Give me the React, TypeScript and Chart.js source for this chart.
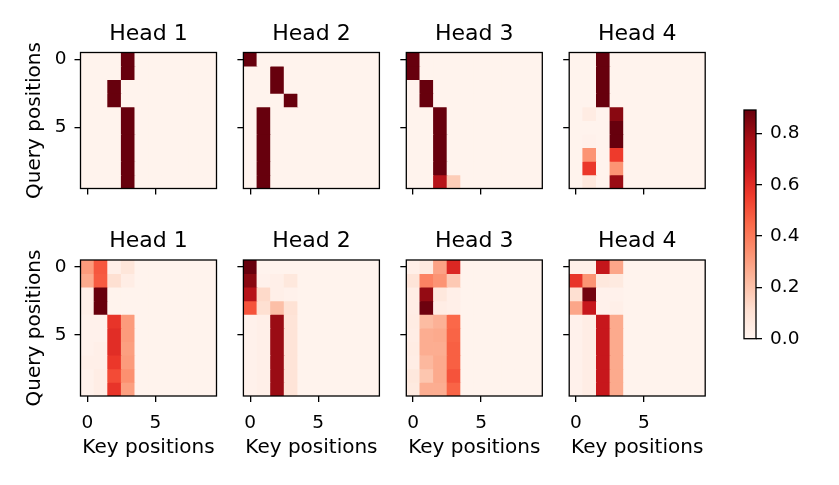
import React, { useEffect, useRef } from "react";
import { Chart, registerables } from "chart.js";

Chart.register(...registerables);

// ---------- data ----------
const KEY_POSITIONS = [0, 1, 2, 3, 4, 5, 6, 7, 8, 9];
const QUERY_POSITIONS = [0, 1, 2, 3, 4, 5, 6, 7, 8, 9];
const AXIS_TICKS = [0, 5];
const COLORBAR_TICKS = [0, 0.2, 0.4, 0.6, 0.8];
const HEAD_TITLES = ["Head 1", "Head 2", "Head 3", "Head 4"];
const X_LABEL = "Key positions";
const Y_LABEL = "Query positions";
const COLOR_MIN = 0;
const COLOR_MAX = 0.891;

// rows = query positions, columns = key positions
const layer1Head1 = [
  [0.01, 0.01, 0.01, 0.91, 0.01, 0.01, 0.01, 0.01, 0.01, 0.01],
  [0.01, 0.01, 0.01, 0.91, 0.01, 0.01, 0.01, 0.01, 0.01, 0.01],
  [0.01, 0.01, 0.91, 0.01, 0.01, 0.01, 0.01, 0.01, 0.01, 0.01],
  [0.01, 0.01, 0.91, 0.01, 0.01, 0.01, 0.01, 0.01, 0.01, 0.01],
  [0.01, 0.01, 0.01, 0.91, 0.01, 0.01, 0.01, 0.01, 0.01, 0.01],
  [0.01, 0.01, 0.01, 0.91, 0.01, 0.01, 0.01, 0.01, 0.01, 0.01],
  [0.01, 0.01, 0.01, 0.91, 0.01, 0.01, 0.01, 0.01, 0.01, 0.01],
  [0.01, 0.01, 0.01, 0.91, 0.01, 0.01, 0.01, 0.01, 0.01, 0.01],
  [0.01, 0.01, 0.01, 0.91, 0.01, 0.01, 0.01, 0.01, 0.01, 0.01],
  [0.01, 0.01, 0.01, 0.91, 0.01, 0.01, 0.01, 0.01, 0.01, 0.01],
];
const layer1Head2 = [
  [0.91, 0.01, 0.01, 0.01, 0.01, 0.01, 0.01, 0.01, 0.01, 0.01],
  [0.01, 0.01, 0.91, 0.01, 0.01, 0.01, 0.01, 0.01, 0.01, 0.01],
  [0.01, 0.01, 0.91, 0.01, 0.01, 0.01, 0.01, 0.01, 0.01, 0.01],
  [0.01, 0.01, 0.01, 0.91, 0.01, 0.01, 0.01, 0.01, 0.01, 0.01],
  [0.01, 0.91, 0.01, 0.01, 0.01, 0.01, 0.01, 0.01, 0.01, 0.01],
  [0.01, 0.91, 0.01, 0.01, 0.01, 0.01, 0.01, 0.01, 0.01, 0.01],
  [0.01, 0.91, 0.01, 0.01, 0.01, 0.01, 0.01, 0.01, 0.01, 0.01],
  [0.01, 0.91, 0.01, 0.01, 0.01, 0.01, 0.01, 0.01, 0.01, 0.01],
  [0.01, 0.91, 0.01, 0.01, 0.01, 0.01, 0.01, 0.01, 0.01, 0.01],
  [0.01, 0.91, 0.01, 0.01, 0.01, 0.01, 0.01, 0.01, 0.01, 0.01],
];
const layer1Head3 = [
  [0.91, 0.01, 0.01, 0.01, 0.01, 0.01, 0.01, 0.01, 0.01, 0.01],
  [0.91, 0.01, 0.01, 0.01, 0.01, 0.01, 0.01, 0.01, 0.01, 0.01],
  [0.01, 0.91, 0.01, 0.01, 0.01, 0.01, 0.01, 0.01, 0.01, 0.01],
  [0.01, 0.91, 0.01, 0.01, 0.01, 0.01, 0.01, 0.01, 0.01, 0.01],
  [0.01, 0.01, 0.91, 0.01, 0.01, 0.01, 0.01, 0.01, 0.01, 0.01],
  [0.01, 0.01, 0.91, 0.01, 0.01, 0.01, 0.01, 0.01, 0.01, 0.01],
  [0.01, 0.01, 0.91, 0.01, 0.01, 0.01, 0.01, 0.01, 0.01, 0.01],
  [0.01, 0.01, 0.91, 0.01, 0.01, 0.01, 0.01, 0.01, 0.01, 0.01],
  [0.01, 0.01, 0.91, 0.01, 0.01, 0.01, 0.01, 0.01, 0.01, 0.01],
  [0.01, 0.01, 0.73, 0.17, 0.01, 0.01, 0.01, 0.01, 0.01, 0.01],
];
const layer1Head4 = [
  [0.01, 0.01, 0.91, 0.01, 0.01, 0.01, 0.01, 0.01, 0.01, 0.01],
  [0.01, 0.01, 0.91, 0.01, 0.01, 0.01, 0.01, 0.01, 0.01, 0.01],
  [0.01, 0.01, 0.91, 0.01, 0.01, 0.01, 0.01, 0.01, 0.01, 0.01],
  [0.01, 0.01, 0.91, 0.01, 0.01, 0.01, 0.01, 0.01, 0.01, 0.01],
  [0.01, 0.05, 0.01, 0.83, 0.01, 0.01, 0.01, 0.01, 0.01, 0.01],
  [0.01, 0.01, 0.01, 0.91, 0.01, 0.01, 0.01, 0.01, 0.01, 0.01],
  [0.01, 0.02, 0.01, 0.91, 0.01, 0.01, 0.01, 0.01, 0.01, 0.01],
  [0.01, 0.33, 0.01, 0.56, 0.01, 0.01, 0.01, 0.01, 0.01, 0.01],
  [0.01, 0.57, 0.01, 0.33, 0.01, 0.01, 0.01, 0.01, 0.01, 0.01],
  [0.01, 0.07, 0.01, 0.8, 0.01, 0.01, 0.01, 0.01, 0.01, 0.01],
];
const layer2Head1 = [
  [0.31, 0.49, 0.03, 0.08, 0.01, 0.01, 0.01, 0.01, 0.01, 0.01],
  [0.27, 0.48, 0.11, 0.04, 0.01, 0.01, 0.01, 0.01, 0.01, 0.01],
  [0.03, 0.89, 0.01, 0.01, 0.01, 0.01, 0.01, 0.01, 0.01, 0.01],
  [0.03, 0.89, 0.01, 0.01, 0.01, 0.01, 0.01, 0.01, 0.01, 0.01],
  [0.02, 0.02, 0.58, 0.31, 0.01, 0.01, 0.01, 0.01, 0.01, 0.01],
  [0.02, 0.02, 0.6, 0.31, 0.01, 0.01, 0.01, 0.01, 0.01, 0.01],
  [0.02, 0.03, 0.6, 0.3, 0.01, 0.01, 0.01, 0.01, 0.01, 0.01],
  [0.03, 0.03, 0.57, 0.31, 0.01, 0.01, 0.01, 0.01, 0.01, 0.01],
  [0.02, 0.04, 0.52, 0.34, 0.01, 0.01, 0.01, 0.01, 0.01, 0.01],
  [0.02, 0.04, 0.58, 0.3, 0.01, 0.01, 0.01, 0.01, 0.01, 0.01],
];
const layer2Head2 = [
  [0.89, 0.01, 0.01, 0.01, 0.01, 0.01, 0.01, 0.01, 0.01, 0.01],
  [0.83, 0.02, 0.03, 0.07, 0.01, 0.01, 0.01, 0.01, 0.01, 0.01],
  [0.73, 0.13, 0.03, 0.02, 0.01, 0.01, 0.01, 0.01, 0.01, 0.01],
  [0.5, 0.11, 0.21, 0.1, 0.01, 0.01, 0.01, 0.01, 0.01, 0.01],
  [0.02, 0.03, 0.8, 0.09, 0.01, 0.01, 0.01, 0.01, 0.01, 0.01],
  [0.02, 0.03, 0.8, 0.09, 0.01, 0.01, 0.01, 0.01, 0.01, 0.01],
  [0.02, 0.03, 0.8, 0.09, 0.01, 0.01, 0.01, 0.01, 0.01, 0.01],
  [0.02, 0.03, 0.8, 0.09, 0.01, 0.01, 0.01, 0.01, 0.01, 0.01],
  [0.02, 0.03, 0.8, 0.09, 0.01, 0.01, 0.01, 0.01, 0.01, 0.01],
  [0.02, 0.03, 0.8, 0.09, 0.01, 0.01, 0.01, 0.01, 0.01, 0.01],
];
const layer2Head3 = [
  [0.03, 0.06, 0.29, 0.62, 0.01, 0.01, 0.01, 0.01, 0.01, 0.01],
  [0.09, 0.38, 0.33, 0.18, 0.01, 0.01, 0.01, 0.01, 0.01, 0.01],
  [0.04, 0.81, 0.07, 0.03, 0.01, 0.01, 0.01, 0.01, 0.01, 0.01],
  [0.04, 0.88, 0.04, 0.03, 0.01, 0.01, 0.01, 0.01, 0.01, 0.01],
  [0.05, 0.22, 0.25, 0.45, 0.01, 0.01, 0.01, 0.01, 0.01, 0.01],
  [0.04, 0.26, 0.27, 0.46, 0.01, 0.01, 0.01, 0.01, 0.01, 0.01],
  [0.05, 0.26, 0.26, 0.47, 0.01, 0.01, 0.01, 0.01, 0.01, 0.01],
  [0.04, 0.23, 0.27, 0.47, 0.01, 0.01, 0.01, 0.01, 0.01, 0.01],
  [0.07, 0.19, 0.27, 0.5, 0.01, 0.01, 0.01, 0.01, 0.01, 0.01],
  [0.06, 0.26, 0.26, 0.46, 0.01, 0.01, 0.01, 0.01, 0.01, 0.01],
];
const layer2Head4 = [
  [0.03, 0.03, 0.69, 0.28, 0.01, 0.01, 0.01, 0.01, 0.01, 0.01],
  [0.58, 0.33, 0.07, 0.06, 0.01, 0.01, 0.01, 0.01, 0.01, 0.01],
  [0.11, 0.87, 0.02, 0.02, 0.01, 0.01, 0.01, 0.01, 0.01, 0.01],
  [0.28, 0.68, 0.02, 0.03, 0.01, 0.01, 0.01, 0.01, 0.01, 0.01],
  [0.02, 0.04, 0.68, 0.27, 0.01, 0.01, 0.01, 0.01, 0.01, 0.01],
  [0.02, 0.04, 0.68, 0.27, 0.01, 0.01, 0.01, 0.01, 0.01, 0.01],
  [0.02, 0.04, 0.68, 0.27, 0.01, 0.01, 0.01, 0.01, 0.01, 0.01],
  [0.02, 0.04, 0.68, 0.27, 0.01, 0.01, 0.01, 0.01, 0.01, 0.01],
  [0.02, 0.04, 0.68, 0.27, 0.01, 0.01, 0.01, 0.01, 0.01, 0.01],
  [0.02, 0.04, 0.68, 0.27, 0.01, 0.01, 0.01, 0.01, 0.01, 0.01],
];

const LAYERS = [
  [layer1Head1, layer1Head2, layer1Head3, layer1Head4],
  [layer2Head1, layer2Head2, layer2Head3, layer2Head4],
];

// ---------- style / layout ----------
const FIG_W = 839;
const FIG_H = 485;
const FONT = "DejaVu Sans";
const PANEL_LEFT = [80.5, 243.4, 406.3, 569.2];
const PANEL_TOP = [52.5, 260];
const PANEL_SIZE = 136;
const CB_LEFT = 744;
const CB_RIGHT = 756;
const CB_TOP = 110;
const CB_BOTTOM = 338.7;
const TITLE_SIZE = 22;
const TITLE_GAP = 7.5;
const LABEL_SIZE = 20;
const TICK_SIZE = 18.5;
const LINE_W = 1.3;
const TICK_LEN = 6;

const REDS = ["#fff5f0", "#fee0d2", "#fcbba1", "#fc9272", "#fb6a4a", "#ef3b2c", "#cb181d", "#a50f15", "#67000d"];

function hexToRgb(h: string) {
  return [parseInt(h.slice(1, 3), 16), parseInt(h.slice(3, 5), 16), parseInt(h.slice(5, 7), 16)];
}

function cmap(v: number) {
  let t = (v - COLOR_MIN) / (COLOR_MAX - COLOR_MIN);
  t = Math.max(0, Math.min(1, t));
  const pos = t * (REDS.length - 1);
  const i = Math.min(REDS.length - 2, Math.floor(pos));
  const f = pos - i;
  const a = hexToRgb(REDS[i]);
  const b = hexToRgb(REDS[i + 1]);
  const c = a.map((x, k) => Math.round(x + (b[k] - x) * f));
  return `rgb(${c[0]},${c[1]},${c[2]})`;
}

const framePlugin = {
  id: "frame",
  beforeDatasetsDraw(chart: any) {
    const { ctx, chartArea: a } = chart;
    ctx.save();
    ctx.fillStyle = cmap(0.01);
    ctx.fillRect(a.left, a.top, a.right - a.left, a.bottom - a.top);
    ctx.restore();
  },
  afterDraw(chart: any) {
    const { ctx, chartArea: a } = chart;
    ctx.save();
    ctx.strokeStyle = "#000";
    ctx.lineWidth = LINE_W;
    ctx.strokeRect(a.left, a.top, a.right - a.left, a.bottom - a.top);
    ctx.restore();
  },
};

const cbFramePlugin = {
  id: "cbframe",
  afterDraw(chart: any) {
    const { ctx, chartArea: a } = chart;
    ctx.save();
    ctx.strokeStyle = "#000";
    ctx.lineWidth = LINE_W;
    ctx.strokeRect(a.left, a.top, a.right - a.left, a.bottom - a.top);
    ctx.restore();
  },
};

const canvasStyle: React.CSSProperties = {
  position: "absolute",
  left: 0,
  top: 0,
  width: FIG_W,
  height: FIG_H,
};

function HeatPanel({ matrix, title, col, row }: { matrix: number[][]; title: string; col: number; row: number }) {
  const ref = useRef<HTMLCanvasElement>(null);
  useEffect(() => {
    const left = PANEL_LEFT[col];
    const top = PANEL_TOP[row];
    const isLeft = col === 0;
    const isBottom = row === 1;
    const yW = isLeft ? left : 24;
    const xH = isBottom ? 62 : 12;
    const chart = new Chart(ref.current as HTMLCanvasElement, {
      type: "bar",
      data: {
        datasets: QUERY_POSITIONS.map((q) => ({
          label: `query ${q}`,
          data: KEY_POSITIONS.map((k) => ({ x: k, y: [q - 0.5, q + 0.5] })),
          backgroundColor: matrix[q].map((v) => cmap(v)),
          borderWidth: 0,
          barPercentage: 1,
          categoryPercentage: 1,
          grouped: false,
          inflateAmount: 0.4,
        })) as any,
      },
      options: {
        animation: false,
        responsive: false,
        devicePixelRatio: 1,
        events: [],
        layout: {
          padding: {
            left: left - yW,
            right: FIG_W - (left + PANEL_SIZE),
            top: top - TITLE_SIZE - TITLE_GAP,
            bottom: FIG_H - (top + PANEL_SIZE) - xH,
          },
        },
        plugins: {
          legend: { display: false },
          tooltip: { enabled: false },
          title: {
            display: true,
            fullSize: false,
            align: "center",
            text: title,
            color: "#000",
            font: { family: FONT, size: TITLE_SIZE, weight: "normal", lineHeight: 1 },
            padding: { top: 0, bottom: TITLE_GAP },
          },
        },
        scales: {
          x: {
            type: "linear",
            min: -0.5,
            max: 9.5,
            offset: false,
            afterBuildTicks: (s: any) => {
              s.ticks = AXIS_TICKS.map((v) => ({ value: v }));
            },
            afterFit: (s: any) => {
              s.height = xH;
            },
            grid: {
              display: true,
              offset: false,
              drawOnChartArea: false,
              drawTicks: true,
              tickLength: TICK_LEN,
              tickWidth: LINE_W,
              tickColor: "#000",
              lineWidth: LINE_W,
              color: "#000",
            },
            border: { display: false },
            ticks: {
              display: isBottom,
              autoSkip: false,
              maxRotation: 0,
              color: "#000",
              padding: 11.5,
              font: { family: FONT, size: TICK_SIZE, lineHeight: 1 },
            },
            title: {
              display: isBottom,
              text: X_LABEL,
              color: "#000",
              font: { family: FONT, size: LABEL_SIZE, lineHeight: 1 },
              padding: { top: 0, bottom: 0 },
            },
          },
          y: {
            type: "linear",
            min: -0.5,
            max: 9.5,
            reverse: true,
            beginAtZero: false,
            afterBuildTicks: (s: any) => {
              s.ticks = AXIS_TICKS.map((v) => ({ value: v }));
            },
            afterFit: (s: any) => {
              s.width = yW;
            },
            grid: {
              display: true,
              drawOnChartArea: false,
              drawTicks: true,
              tickLength: TICK_LEN,
              tickWidth: LINE_W,
              tickColor: "#000",
              lineWidth: LINE_W,
              color: "#000",
            },
            border: { display: false },
            ticks: {
              display: isLeft,
              autoSkip: false,
              color: "#000",
              padding: 8,
              font: { family: FONT, size: TICK_SIZE, lineHeight: 1 },
            },
            title: {
              display: isLeft,
              text: Y_LABEL,
              color: "#000",
              font: { family: FONT, size: LABEL_SIZE, lineHeight: 1 },
              padding: { top: 25, bottom: 0 },
            },
          },
        },
      } as any,
      plugins: [framePlugin],
    });
    return () => chart.destroy();
  }, [matrix, title, col, row]);
  return <canvas ref={ref} width={FIG_W} height={FIG_H} style={canvasStyle} />;
}

function ColorBar() {
  const ref = useRef<HTMLCanvasElement>(null);
  useEffect(() => {
    const chart = new Chart(ref.current as HTMLCanvasElement, {
      type: "bar",
      data: {
        labels: ["attention"],
        datasets: [
          {
            label: "colorbar",
            data: [[COLOR_MIN, COLOR_MAX]] as any,
            backgroundColor: (c: any) => {
              const a = c.chart.chartArea;
              if (!a) return REDS[4];
              const g = c.chart.ctx.createLinearGradient(0, a.bottom, 0, a.top);
              REDS.forEach((col, i) => g.addColorStop(i / (REDS.length - 1), col));
              return g;
            },
            borderWidth: 0,
            barPercentage: 1,
            categoryPercentage: 1,
            inflateAmount: 0,
          },
        ],
      },
      options: {
        animation: false,
        responsive: false,
        devicePixelRatio: 1,
        events: [],
        layout: {
          padding: { left: CB_LEFT, right: 0, top: CB_TOP, bottom: FIG_H - CB_BOTTOM },
        },
        plugins: { legend: { display: false }, tooltip: { enabled: false }, title: { display: false } },
        scales: {
          x: { type: "category", display: false, offset: true },
          y: {
            type: "linear",
            position: "right",
            min: COLOR_MIN,
            max: COLOR_MAX,
            afterBuildTicks: (s: any) => {
              s.ticks = COLORBAR_TICKS.map((v) => ({ value: v }));
            },
            afterFit: (s: any) => {
              s.width = FIG_W - CB_RIGHT;
            },
            grid: {
              display: true,
              drawOnChartArea: false,
              drawTicks: true,
              tickLength: TICK_LEN,
              tickWidth: LINE_W,
              tickColor: "#000",
              lineWidth: LINE_W,
              color: "#000",
            },
            border: { display: false },
            ticks: {
              autoSkip: false,
              color: "#000",
              padding: 8,
              font: { family: FONT, size: TICK_SIZE, lineHeight: 1 },
              callback: (v: any) => Number(v).toFixed(1),
            },
          },
        },
      } as any,
      plugins: [cbFramePlugin],
    });
    return () => chart.destroy();
  }, []);
  return <canvas ref={ref} width={FIG_W} height={FIG_H} style={canvasStyle} />;
}

export default function App() {
  return (
    <div
      style={{
        position: "fixed",
        left: 0,
        top: 0,
        width: FIG_W,
        height: FIG_H,
        background: "#fff",
        overflow: "hidden",
      }}
    >
      {LAYERS.map((heads, row) =>
        heads.map((m, col) => (
          <HeatPanel key={`${row}-${col}`} matrix={m} title={HEAD_TITLES[col]} col={col} row={row} />
        ))
      )}
      <ColorBar />
    </div>
  );
}
